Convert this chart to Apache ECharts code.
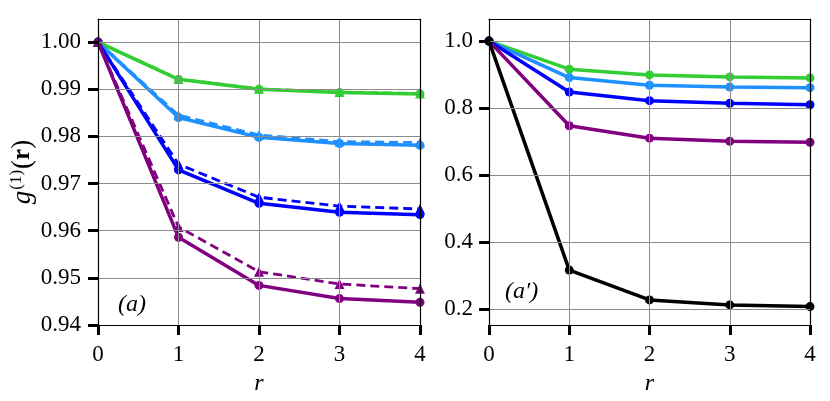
<!DOCTYPE html>
<html>
<head>
<meta charset="utf-8">
<script src="https://cdn.jsdelivr.net/npm/echarts@6/dist/echarts.min.js"></script>
<style>
html,body{margin:0;padding:0;background:#fff;}
#chart{width:830px;height:401px;}
</style>
</head>
<body>
<div id="chart"></div>
<script>
// r values shared by both panels
var rValues = [0, 1, 2, 3, 4];

// panel (a): solid = circles, dashed = triangles
var aGreen = [1.0, 0.9921, 0.9900, 0.9893, 0.9890];
var aGreenDash = [1.0, 0.9922, 0.9901, 0.9894, 0.9891];
var aLightBlue = [1.0, 0.9840, 0.9798, 0.9785, 0.9781];
var aLightBlueDash = [1.0, 0.9845, 0.9803, 0.9789, 0.9787];
var aBlue = [1.0, 0.9729, 0.9658, 0.9639, 0.9634];
var aBlueDash = [1.0, 0.9741, 0.9671, 0.9652, 0.9646];
var aPurple = [1.0, 0.9586, 0.9484, 0.9456, 0.9448];
var aPurpleDash = [1.0, 0.9608, 0.9513, 0.9487, 0.9477];

// panel (a')
var bGreen = [1.0, 0.916, 0.899, 0.893, 0.890];
var bLightBlue = [1.0, 0.891, 0.868, 0.863, 0.861];
var bBlue = [1.0, 0.848, 0.822, 0.814, 0.810];
var bPurple = [1.0, 0.747, 0.710, 0.701, 0.698];
var bBlack = [1.0, 0.316, 0.227, 0.212, 0.207];

var aTicks = [0.94, 0.95, 0.96, 0.97, 0.98, 0.99, 1.00];
var bTicks = [0.2, 0.4, 0.6, 0.8, 1.0];

var serif = '"Liberation Serif", "DejaVu Serif", serif';
var gridColor = '#8c8c8c';

function pairs(ys){
	var out = [];
	for (var i = 0; i < rValues.length; i++) out.push([rValues[i], ys[i]]);
	return out;
}

function line(name, ys, color, dashed, idx){
	return {
		name: name,
		type: 'line',
		xAxisIndex: idx,
		yAxisIndex: idx * 2,
		data: pairs(ys),
		symbol: dashed ? 'triangle' : 'circle',
		symbolSize: dashed ? 10 : 9,
		showAllSymbol: true,
		clip: true,
		z: dashed ? 4 : 3,
		itemStyle: {color: color},
		lineStyle: {color: color, width: dashed ? 2.8 : 3.5, type: dashed ? [9, 5] : 'solid'},
		animation: false
	};
}

function xAxisFor(idx){
	return {
		type: 'value', gridIndex: idx, min: 0, max: 4, interval: 1,
		name: 'r', nameLocation: 'middle', nameGap: 47,
		nameTextStyle: {fontFamily: serif, fontStyle: 'italic', fontSize: 24, color: '#000'},
		axisLine: {show: true, onZero: false, lineStyle: {color: '#000', width: 1.2}},
		axisTick: {show: true, length: 10, lineStyle: {color: '#000', width: 3}},
		axisLabel: {fontFamily: serif, fontSize: 23, color: '#000', margin: 18},
		splitLine: {show: true, lineStyle: {color: gridColor, width: 1}},
		z: 5
	};
}

function frameX(idx){
	return {
		type: 'value', gridIndex: idx, position: 'top', min: 0, max: 4,
		axisLine: {show: true, onZero: false, lineStyle: {color: '#000', width: 1.2}},
		axisTick: {show: false}, axisLabel: {show: false}, splitLine: {show: false}, z: 6
	};
}
function frameY(idx, mn, mx){
	return {
		type: 'value', gridIndex: idx, position: 'right', min: mn, max: mx,
		axisLine: {show: true, onZero: false, lineStyle: {color: '#000', width: 1.2}},
		axisTick: {show: false}, axisLabel: {show: false}, splitLine: {show: false}, z: 6
	};
}

var option = {
	backgroundColor: '#fff',
	animation: false,
	grid: [
		{left: 98, right: 410, top: 19, bottom: 74},
		{left: 489, right: 20, top: 19, bottom: 74}
	],
	xAxis: [xAxisFor(0), xAxisFor(1), frameX(0), frameX(1)],
	yAxis: [
		{
			type: 'value', gridIndex: 0, min: 0.94, max: 1.0049,
			name: '{g|g}{s|(1)}{p|(}{b|r}{p|)}', nameLocation: 'middle', nameGap: 60, nameRotate: 90,
			nameTextStyle: {
				color: '#000',
				rich: {
					g: {fontFamily: serif, fontStyle: 'italic', fontSize: 27, color: '#000'},
					s: {fontFamily: serif, fontSize: 17, color: '#000', padding: [0, 1, 13, 1]},
					p: {fontFamily: serif, fontSize: 27, color: '#000'},
					b: {fontFamily: serif, fontWeight: 'bold', fontSize: 25, color: '#000'}
				}
			},
			axisLine: {show: true, onZero: false, lineStyle: {color: '#000', width: 1.2}},
			axisTick: {show: true, length: 10, customValues: aTicks, lineStyle: {color: '#000', width: 3}},
			axisLabel: {customValues: aTicks, fontFamily: serif, fontSize: 23, color: '#000', margin: 17,
				formatter: function(v){ return v.toFixed(2); }},
			splitLine: {show: true, lineStyle: {color: gridColor, width: 1}},
			z: 5
		},
		frameY(0, 0.94, 1.0049),
		{
			type: 'value', gridIndex: 1, min: 0.152, max: 1.066,
			axisLine: {show: true, onZero: false, lineStyle: {color: '#000', width: 1.2}},
			axisTick: {show: true, length: 10, customValues: bTicks, lineStyle: {color: '#000', width: 3}},
			axisLabel: {customValues: bTicks, fontFamily: serif, fontSize: 23, color: '#000', margin: 16,
				formatter: function(v){ return v.toFixed(1); }},
			splitLine: {show: true, lineStyle: {color: gridColor, width: 1}},
			z: 5
		},
		frameY(1, 0.152, 1.066)
	],
	graphic: [
		{type: 'text', left: 118, top: 293, style: {text: '(a)', font: 'italic 24px ' + serif, fill: '#000'}},
		{type: 'text', left: 505, top: 280, style: {text: "(a\u2032)", font: 'italic 24px ' + serif, fill: '#000'}}
	],
	series: [
		line('green', aGreen, '#32cd32', false, 0),
		line('green dashed', aGreenDash, '#32cd32', true, 0),
		line('lightblue', aLightBlue, '#1e90ff', false, 0),
		line('lightblue dashed', aLightBlueDash, '#1e90ff', true, 0),
		line('blue', aBlue, '#0000ff', false, 0),
		line('blue dashed', aBlueDash, '#0000ff', true, 0),
		line('purple', aPurple, '#800080', false, 0),
		line('purple dashed', aPurpleDash, '#800080', true, 0),
		line('green', bGreen, '#32cd32', false, 1),
		line('lightblue', bLightBlue, '#1e90ff', false, 1),
		line('blue', bBlue, '#0000ff', false, 1),
		line('purple', bPurple, '#800080', false, 1),
		line('black', bBlack, '#000000', false, 1)
	]
};

var chart = echarts.init(document.getElementById('chart'), null, {renderer: 'canvas'});
chart.setOption(option);
</script>
</body>
</html>
